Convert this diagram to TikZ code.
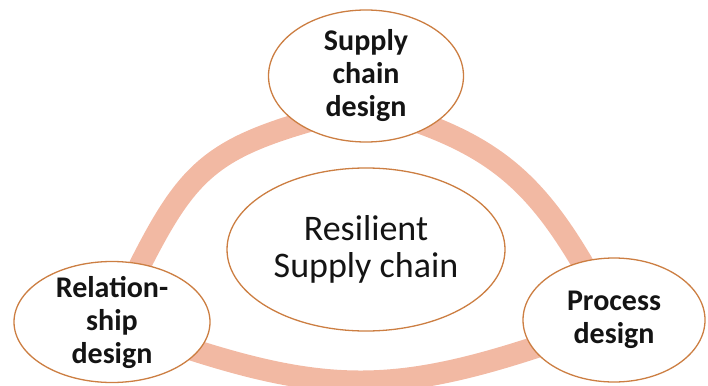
\documentclass[tikz,border=0pt]{standalone}
\usepackage{fontspec}
\setmainfont{Carlito}
\usetikzlibrary{shapes.geometric,backgrounds}

\definecolor{ringpink}{HTML}{F2B9A3}
\definecolor{rimorange}{HTML}{CC7E42}

\tikzset{
  part/.style={ellipse, draw=rimorange, line width=1.3pt, fill=white,
    inner sep=-20pt, align=center, text=black!92,
    font=\fontsize{30}{33}\selectfont\bfseries},
  hub/.style={part, font=\fontsize{36}{37}\selectfont},
  ring/.style={draw=ringpink, line width=22pt}
}

\begin{document}
\begin{tikzpicture}[x=1pt,y=-1pt]
    \useasboundingbox (0,0) rectangle (708,385);

    % Define the three design ellipses and the centre one
    \node[part, minimum width=195pt, minimum height=132pt] (pS) at (366,76) {Supply\\chain\\design};
    \node[part, minimum width=196pt, minimum height=121pt] (pR) at (112,322) {Relation-\\ship\\design};
    \node[part, minimum width=182pt, minimum height=124pt] (pP) at (614,320) {Process\\design};
    \node[hub, minimum width=278pt, minimum height=163pt] (pC) at (366,249.5) {Resilient\\Supply chain};

    % Top corner of the ring sits below the centre of the top ellipse
    \coordinate (pT) at ([yshift=-30pt]pS.center);

    % Draw the ring behind the ellipses
    \begin{scope}[on background layer]
    \draw[ring] (pT) to[out=194,in=64,looseness=1.35] (pR.center)
        to[out=-20,in=200,looseness=1.2] (pP.center)
        to[out=118,in=-15,looseness=1.15] (pT);
    \end{scope}

\end{tikzpicture}
\end{document}
